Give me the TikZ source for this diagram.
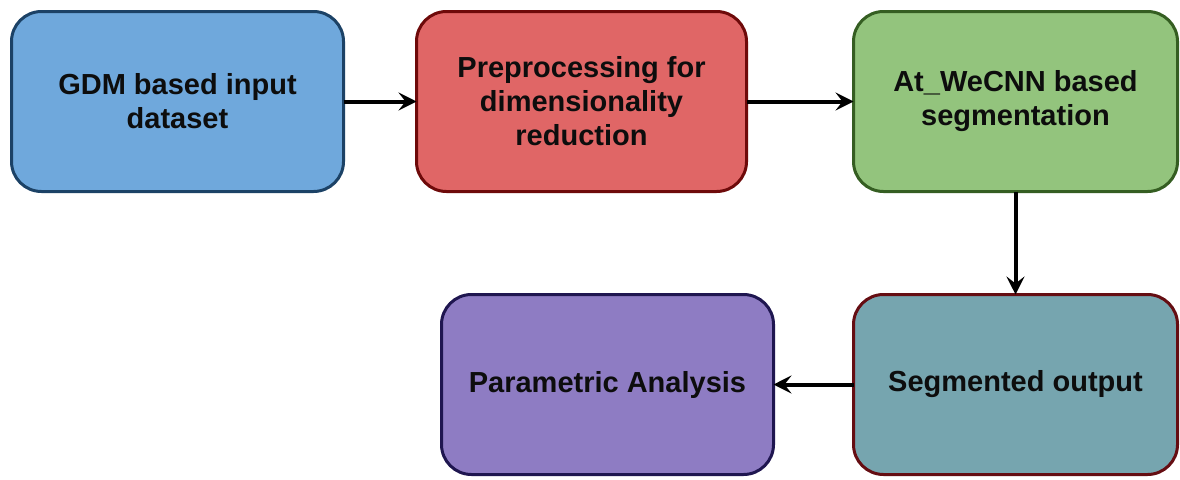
\documentclass[tikz,border=0pt]{standalone}
\usepackage{fontspec}
\setmainfont{Liberation Sans}
\usepackage{xcolor}
\usetikzlibrary{positioning,arrows.meta}

\definecolor{inblue}{HTML}{6FA8DC}
\definecolor{inblueline}{HTML}{1C4266}
\definecolor{prered}{HTML}{E06666}
\definecolor{preredline}{HTML}{6E0A0A}
\definecolor{seggreen}{HTML}{93C47D}
\definecolor{seggreenline}{HTML}{355E22}
\definecolor{outteal}{HTML}{76A5AF}
\definecolor{outtealline}{HTML}{650D12}
\definecolor{parpurple}{HTML}{8E7CC3}
\definecolor{parpurpleline}{HTML}{1F1650}

\tikzset{
  stagebox/.style={draw, line width=3pt, rounded corners=30pt, outer sep=0pt,
    minimum width=332pt, minimum height=180pt, align=center,
    text=black!95, font=\fontsize{29}{34}\selectfont\bfseries},
  flow/.style={-{Stealth[length=18pt,width=18pt,inset=7pt]}, line width=4pt}
}

\begin{document}
\begin{tikzpicture}[x=1pt,y=-1pt]
  \useasboundingbox (0,0) rectangle (1180,479);
  \fill[white] (0,0) rectangle (1180,479);
  % top row
  \node[stagebox, fill=inblue, draw=inblueline] (input) at (177.5,101.5)
    {GDM based input\\dataset};
  \node[stagebox, fill=prered, draw=preredline, minimum width=330pt,
    right=73pt of input] (prep)
    {Preprocessing for\\dimensionality\\reduction};
  \node[stagebox, fill=seggreen, draw=seggreenline, minimum width=324pt,
    right=107pt of prep] (seg) {At\_WeCNN based\\segmentation};
  % bottom row
  \node[stagebox, fill=outteal, draw=outtealline, minimum width=324pt,
    below=103pt of seg] (out) {Segmented output};
  \node[stagebox, fill=parpurple, draw=parpurpleline, left=80pt of out] (par)
    {Parametric Analysis};
  % connectors
  \draw[flow] (input) -- (prep);
  \draw[flow] (prep) -- (seg);
  \draw[flow] (seg) -- (out);
  \draw[flow] (out) -- (par);
\end{tikzpicture}
\end{document}
